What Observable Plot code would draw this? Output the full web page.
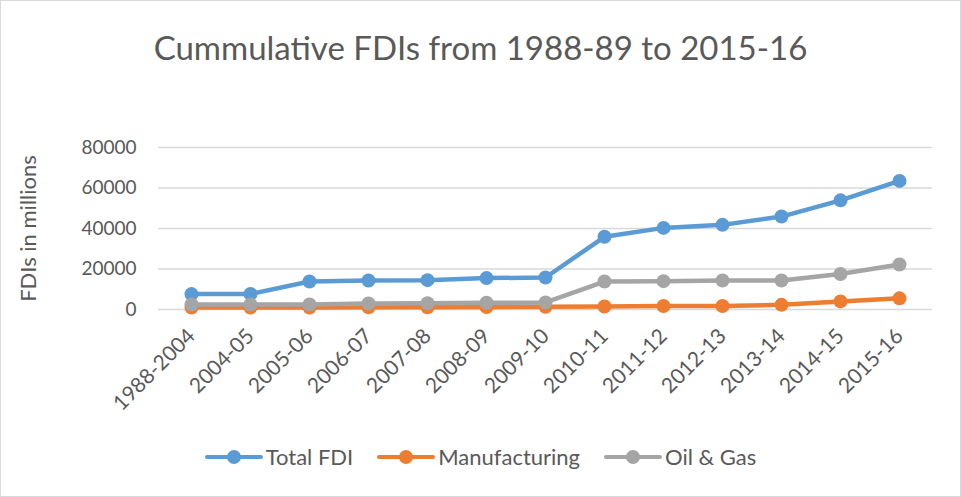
<!DOCTYPE html>
<html>
<head>
<meta charset="utf-8">
<script src="https://cdn.jsdelivr.net/npm/d3@7"></script>
<script src="https://cdn.jsdelivr.net/npm/@observablehq/plot@0.6"></script>
<style>
  html, body { margin: 0; padding: 0; background: #fff; }
  #chart { position: relative; width: 959px; height: 495px; border: 1px solid #d9d9d9; font-family: Lato, "Open Sans", sans-serif; color: #595959; overflow: hidden; }
  #title { height: 95px; line-height: 92px; text-align: center; font-size: 33px; color: #595959; }
  #legend { display: flex; justify-content: center; font-size: 22px; color: #595959; margin-top: 17px; padding-left: 0px; }
  .item { display: flex; align-items: center; margin: 0 12px; }
  .key { position: relative; width: 58px; height: 14px; margin-right: 3px; }
  .key .ln { position: absolute; left: 0; right: 0; top: 5px; height: 4.5px; border-radius: 2px; }
  .key .dt { position: absolute; left: 22px; top: 0px; width: 14px; height: 14px; border-radius: 50%; }
</style>
</head>
<body>
<div id="chart">
  <div id="title">Cummulative FDIs from 1988-89 to 2015-16</div>
  <div id="plot"></div>
  <div id="legend"></div>
</div>
<script>
const categories = ["1988-2004","2004-05","2005-06","2006-07","2007-08","2008-09","2009-10","2010-11","2011-12","2012-13","2013-14","2014-15","2015-16"];
const seriesNames = ["Total FDI","Manufacturing","Oil & Gas"];
const seriesColors = ["#5B9BD5","#ED7D31","#A5A5A5"];
const totalFDI = [7600, 7700, 13800, 14300, 14500, 15500, 15800, 35900, 40300, 41800, 45900, 53900, 63500];
const manufacturing = [1000, 1000, 1000, 1100, 1100, 1200, 1300, 1500, 1700, 1700, 2300, 4000, 5500];
const oilGas = [2500, 2500, 2500, 3000, 3100, 3300, 3500, 13800, 14000, 14300, 14300, 17500, 22200];
const yTicks = [0, 20000, 40000, 60000, 80000];

const seriesValues = [totalFDI, manufacturing, oilGas];
const data = [];
seriesNames.forEach((s, i) => categories.forEach((c, j) => data.push({series: s, category: c, value: seriesValues[i][j]})));

const marks = [
  Plot.gridY(yTicks, {stroke: "#d9d9d9", strokeOpacity: 1, strokeWidth: 1.3})
];
seriesNames.forEach((s, i) => {
  const d = data.filter(r => r.series === s);
  marks.push(Plot.line(d, {x: "category", y: "value", stroke: seriesColors[i], strokeWidth: 4.5, strokeLinejoin: "round", strokeLinecap: "round"}));
  marks.push(Plot.dot(d, {x: "category", y: "value", fill: seriesColors[i], r: 7, stroke: "none"}));
});
marks.push(Plot.axisY(yTicks, {tickSize: 0, tickPadding: 22, tickFormat: d => String(d), fontSize: 19, label: null}));
marks.push(Plot.text(["FDIs in millions"], {frameAnchor: "left", dx: -130, rotate: -90, textAnchor: "middle", fontSize: 22, fill: "#595959"}));
marks.push(Plot.axisX({tickSize: 0, tickRotate: -45, tickPadding: 23, fontSize: 21, label: null}));

const chart = Plot.plot({
  width: 959,
  height: 330,
  marginTop: 51,
  marginBottom: 117,
  marginLeft: 157,
  marginRight: 28,
  style: {fontFamily: "Lato, 'Open Sans', sans-serif", color: "#595959", background: "transparent", fontSize: "19px", overflow: "visible"},
  x: {type: "point", domain: categories, padding: 0.5},
  y: {domain: [0, 80000]},
  marks
});
document.getElementById("plot").appendChild(chart);

const legend = document.getElementById("legend");
seriesNames.forEach((s, i) => {
  const item = document.createElement("div");
  item.className = "item";
  item.innerHTML = `<span class="key"><span class="ln" style="background:${seriesColors[i]}"></span><span class="dt" style="background:${seriesColors[i]}"></span></span><span>${s}</span>`;
  legend.appendChild(item);
});
</script>
</body>
</html>
